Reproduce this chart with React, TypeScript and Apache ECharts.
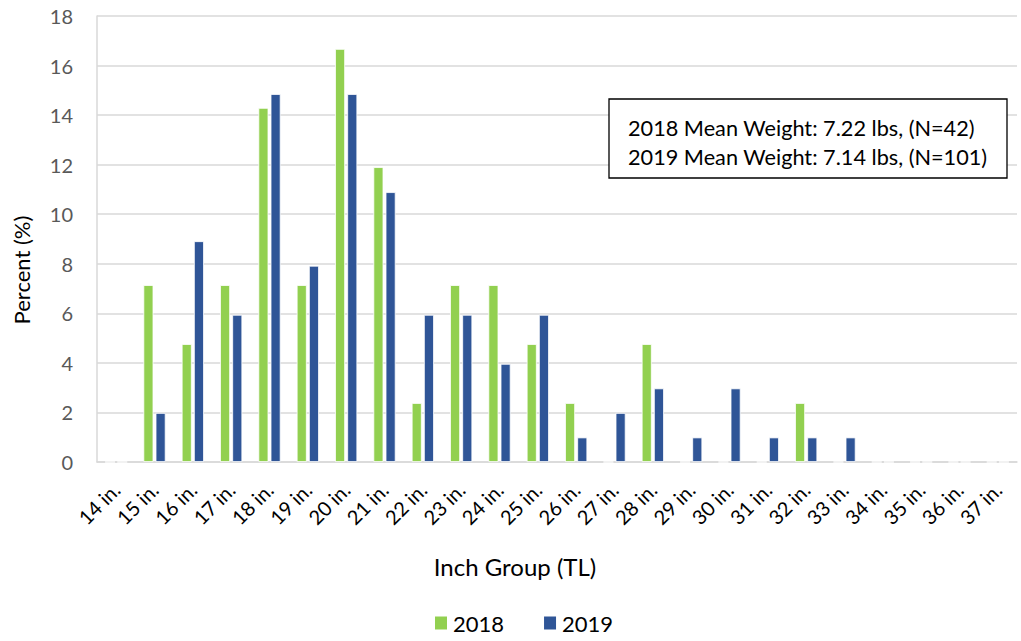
import React, { useEffect, useRef } from "react";
import * as echarts from "echarts";

const categories = ["14 in.", "15 in.", "16 in.", "17 in.", "18 in.", "19 in.", "20 in.", "21 in.", "22 in.", "23 in.", "24 in.", "25 in.", "26 in.", "27 in.", "28 in.", "29 in.", "30 in.", "31 in.", "32 in.", "33 in.", "34 in.", "35 in.", "36 in.", "37 in."];
const values2018 = [0, 7.14, 4.76, 7.14, 14.29, 7.14, 16.67, 11.9, 2.38, 7.14, 7.14, 4.76, 2.38, 0, 4.76, 0, 0, 0, 2.38, 0, 0, 0, 0, 0];
const values2019 = [0, 1.98, 8.91, 5.94, 14.85, 7.92, 14.85, 10.89, 5.94, 5.94, 3.96, 5.94, 0.99, 1.98, 2.97, 0.99, 2.97, 0.99, 0.99, 0.99, 0, 0, 0, 0];
const noteLines = ["2018 Mean Weight: 7.22 lbs, (N=42)", "2019 Mean Weight: 7.14 lbs, (N=101)"];
const xTitle = "Inch Group (TL)";
const yTitle = "Percent (%)";

const FONT = "Lato, 'Open Sans', sans-serif";

export default function App() {
  const ref = useRef<HTMLDivElement>(null);
  useEffect(() => {
    const chart = echarts.init(ref.current!, null, { renderer: "svg" });
    chart.setOption({
      animation: false,
      textStyle: { fontFamily: FONT },
      grid: { left: 97, right: 4, top: 16, bottom: 179, containLabel: false },
      legend: {
        top: 607,
        left: 428,
        itemWidth: 14,
        itemHeight: 15,
        itemGap: 38,
        icon: "rect",
        textStyle: { fontFamily: FONT, fontSize: 22, color: "#000" },
        data: ["2018", "2019"],
      },
      xAxis: {
        type: "category",
        data: categories,
        axisLine: { lineStyle: { color: "#d9d9d9", width: 1.5 } },
        axisTick: { show: false },
        axisLabel: { rotate: 45, fontSize: 20, color: "#000", margin: 24, interval: 0, fontFamily: FONT },
      },
      yAxis: {
        type: "value",
        min: 0,
        max: 18,
        interval: 2,
        axisLine: { show: true, lineStyle: { color: "#d9d9d9", width: 1.5 } },
        axisLabel: { fontSize: 20, color: "#595959", margin: 24, fontFamily: FONT },
        splitLine: { lineStyle: { color: "#d9d9d9", width: 1.5 } },
      },
      series: [
        {
          name: "2018",
          type: "bar",
          data: values2018,
          barWidth: 10,
          barGap: "22%",
          itemStyle: { color: "#92D050", borderColor: "#fff", borderWidth: 0.8 },
        },
        {
          name: "2019",
          type: "bar",
          data: values2019,
          barWidth: 10,
          barGap: "22%",
          itemStyle: { color: "#2F5597", borderColor: "#fff", borderWidth: 0.8 },
        },
      ],
      graphic: [
        {
          type: "text",
          x: 515,
          y: 566,
          style: { text: xTitle, fontFamily: FONT, fontSize: 24, fill: "#000", textAlign: "center", textVerticalAlign: "middle" },
        },
        {
          type: "text",
          x: 21,
          y: 270,
          rotation: Math.PI / 2,
          style: { text: yTitle, fontFamily: FONT, fontSize: 22, fill: "#000", textAlign: "center", textVerticalAlign: "middle" },
        },
        {
          type: "rect",
          shape: { x: 609, y: 99, width: 398, height: 79 },
          style: { fill: "#fff", stroke: "#000", lineWidth: 1.3 },
          z: 100,
        },
        {
          type: "text",
          x: 628,
          y: 128,
          style: { text: noteLines[0], fontFamily: FONT, fontSize: 21.7, fill: "#000", textVerticalAlign: "middle" },
          z: 101,
        },
        {
          type: "text",
          x: 628,
          y: 157,
          style: { text: noteLines[1], fontFamily: FONT, fontSize: 21.7, fill: "#000", textVerticalAlign: "middle" },
          z: 101,
        },
      ],
    });
    return () => chart.dispose();
  }, []);
  return <div ref={ref} style={{ position: "absolute", left: 0, top: 0, width: 1021, height: 641, background: "#fff" }} />;
}
